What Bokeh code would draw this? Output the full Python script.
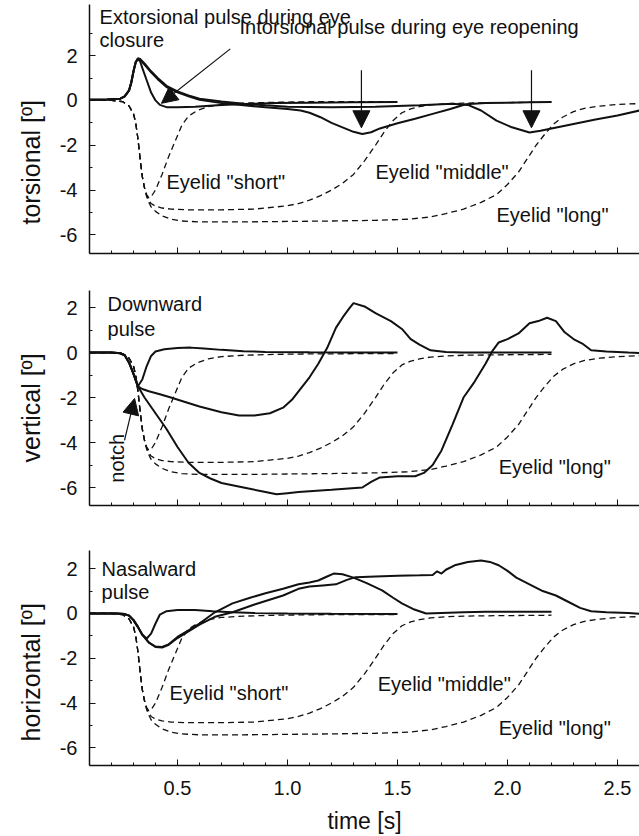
import math
from bokeh.plotting import figure
from bokeh.layouts import column
from bokeh.models import Range1d, FixedTicker, Label, Arrow, NormalHead, Title
from bokeh.embed import file_html
from bokeh.resources import INLINE

FONT = "Liberation Sans"
INK = "#111111"

# ---------------- data ----------------
x_ticks = [0.5, 1.0, 1.5, 2.0, 2.5]
x_tick_labels = ["0.5", "1.0", "1.5", "2.0", "2.5"]
y_ticks = [-6, -4, -2, 0, 2]
y_tick_labels = ["-6", "-4", "-2", "0", "2"]

# eyelid traces (dashed), same in every panel
lid_short_t = [0.10, 0.20, 0.25, 0.28, 0.30, 0.31, 0.32, 0.33, 0.34, 0.35, 0.36, 0.37, 0.38, 0.40, 0.43, 0.46,
               0.49, 0.52, 0.55, 0.59, 0.64, 0.70, 0.80, 0.95, 1.10, 1.30, 1.50]
lid_short_v = [0.0, 0.0, -0.05, -0.25, -0.6, -1.0, -1.7, -2.6, -3.4, -3.9, -4.2, -4.35, -4.3, -4.0, -3.3, -2.5,
               -1.8, -1.1, -0.7, -0.45, -0.28, -0.18, -0.12, -0.08, -0.06, -0.05, -0.05]
lid_mid_t = [0.10, 0.20, 0.25, 0.28, 0.30, 0.31, 0.32, 0.33, 0.34, 0.35, 0.36, 0.37, 0.38, 0.40, 0.43, 0.47, 0.55,
             0.70, 0.85, 0.95, 1.00, 1.05, 1.10, 1.15, 1.20, 1.25, 1.30, 1.35, 1.40, 1.44, 1.48, 1.52, 1.56, 1.60,
             1.65, 1.72, 1.80, 1.95, 2.20]
lid_mid_v = [0.0, 0.0, -0.05, -0.25, -0.6, -1.0, -1.7, -2.6, -3.4, -3.9, -4.25, -4.45, -4.6, -4.72, -4.8, -4.85,
             -4.88, -4.88, -4.85, -4.75, -4.7, -4.6, -4.45, -4.25, -4.0, -3.7, -3.3, -2.7, -2.0, -1.4, -0.9, -0.55,
             -0.38, -0.28, -0.2, -0.15, -0.12, -0.1, -0.08]
lid_long_t = [0.10, 0.20, 0.25, 0.28, 0.30, 0.31, 0.32, 0.33, 0.34, 0.35, 0.36, 0.37, 0.38, 0.40, 0.43, 0.47, 0.52,
              0.60, 0.80, 1.00, 1.20, 1.40, 1.55, 1.65, 1.72, 1.80, 1.88, 1.95, 2.00, 2.05, 2.09, 2.13, 2.17, 2.21,
              2.25, 2.30, 2.35, 2.42, 2.50, 2.60]
lid_long_v = [0.0, 0.0, -0.05, -0.25, -0.6, -1.0, -1.7, -2.6, -3.4, -3.9, -4.3, -4.55, -4.75, -4.95, -5.15, -5.3,
              -5.38, -5.42, -5.42, -5.4, -5.38, -5.35, -5.3, -5.2, -5.05, -4.85, -4.55, -4.2, -3.75, -3.2, -2.6,
              -2.0, -1.5, -1.05, -0.75, -0.5, -0.35, -0.25, -0.18, -0.14]

# torsional eye traces
tor_short_t = [0.10, 0.18, 0.24, 0.26, 0.28, 0.29, 0.30, 0.31, 0.32, 0.33, 0.34, 0.36, 0.38, 0.40, 0.42, 0.45,
               0.50, 0.58, 0.68, 0.80, 0.95, 1.10, 1.30, 1.50]
tor_short_v = [0.03, 0.04, 0.08, 0.18, 0.45, 0.8, 1.3, 1.7, 1.85, 1.75, 1.45, 0.9, 0.35, 0.0, -0.2, -0.3,
               -0.3, -0.28, -0.22, -0.16, -0.12, -0.1, -0.08, -0.07]
tor_mid_t = [0.10, 0.18, 0.24, 0.26, 0.28, 0.29, 0.30, 0.31, 0.32, 0.33, 0.35, 0.38, 0.41, 0.45, 0.50, 0.55, 0.60,
             0.70, 0.80, 0.90, 1.00, 1.06, 1.10, 1.15, 1.20, 1.25, 1.30, 1.34, 1.38, 1.42, 1.50, 1.58, 1.66, 1.74,
             1.81, 1.90, 2.00, 2.10, 2.20]
tor_mid_v = [0.03, 0.04, 0.08, 0.18, 0.45, 0.8, 1.3, 1.7, 1.85, 1.82, 1.6, 1.25, 0.95, 0.6, 0.36, 0.18, 0.03,
             -0.12, -0.22, -0.3, -0.38, -0.45, -0.55, -0.75, -1.0, -1.2, -1.4, -1.5, -1.42, -1.25, -1.02, -0.82,
             -0.6, -0.38, -0.17, -0.12, -0.1, -0.08, -0.07]
tor_long_t = [0.10, 0.18, 0.24, 0.26, 0.28, 0.29, 0.30, 0.31, 0.32, 0.33, 0.35, 0.38, 0.41, 0.45, 0.50, 0.55, 0.60,
              0.70, 0.80, 0.90, 1.00, 1.20, 1.40, 1.60, 1.75, 1.82, 1.88, 1.95, 2.02, 2.10, 2.15, 2.20, 2.30, 2.40,
              2.50, 2.60]
tor_long_v = [0.03, 0.04, 0.08, 0.18, 0.45, 0.8, 1.3, 1.7, 1.88, 1.85, 1.65, 1.3, 1.0, 0.65, 0.4, 0.22, 0.08,
              -0.05, -0.15, -0.22, -0.28, -0.3, -0.28, -0.22, -0.15, -0.2, -0.45, -0.9, -1.2, -1.43, -1.35, -1.25,
              -1.05, -0.85, -0.67, -0.45]

# vertical eye traces
ver_short_t = [0.10, 0.20, 0.24, 0.26, 0.28, 0.30, 0.32, 0.34, 0.36, 0.38, 0.40, 0.44, 0.50, 0.56, 0.62, 0.70,
               0.80, 0.90, 1.10, 1.30, 1.50]
ver_short_v = [0.0, 0.0, -0.03, -0.12, -0.45, -0.95, -1.5, -1.2, -0.6, -0.15, 0.05, 0.15, 0.2, 0.22, 0.18, 0.12,
               0.06, 0.03, 0.01, 0.0, 0.0]
ver_mid_t = [0.10, 0.20, 0.24, 0.26, 0.28, 0.30, 0.32, 0.34, 0.37, 0.42, 0.47, 0.52, 0.60, 0.70, 0.78, 0.85, 0.92,
             0.98, 1.02, 1.06, 1.10, 1.14, 1.18, 1.22, 1.25, 1.28, 1.30, 1.35, 1.40, 1.47, 1.52, 1.56, 1.60, 1.65,
             1.72, 1.80, 2.00, 2.20]
ver_mid_v = [0.0, 0.0, -0.03, -0.12, -0.45, -0.95, -1.5, -1.62, -1.72, -1.85, -2.0, -2.15, -2.4, -2.65, -2.8,
             -2.8, -2.7, -2.45, -2.1, -1.6, -1.1, -0.5, 0.2, 1.1, 1.55, 1.95, 2.2, 2.05, 1.75, 1.4, 1.05, 0.6, 0.35,
             0.1, 0.03, 0.0, 0.0, 0.0]
ver_long_t = [0.10, 0.20, 0.24, 0.26, 0.28, 0.30, 0.32, 0.35, 0.40, 0.45, 0.50, 0.55, 0.60, 0.65, 0.70, 0.80, 0.90,
              0.95, 1.00, 1.05, 1.20, 1.34, 1.38, 1.42, 1.50, 1.58, 1.62, 1.66, 1.70, 1.75, 1.80, 1.85, 1.90, 1.93,
              1.96, 2.00, 2.05, 2.10, 2.14, 2.18, 2.22, 2.26, 2.30, 2.34, 2.38, 2.45, 2.55, 2.60]
ver_long_v = [0.0, 0.0, -0.03, -0.12, -0.45, -0.95, -1.5, -2.0, -2.7, -3.4, -4.2, -4.9, -5.35, -5.6, -5.8, -6.0,
              -6.2, -6.3, -6.25, -6.2, -6.1, -6.0, -5.75, -5.55, -5.5, -5.5, -5.35, -5.0, -4.35, -3.2, -2.0, -1.3,
              -0.5, 0.05, 0.45, 0.6, 0.85, 1.3, 1.4, 1.55, 1.4, 0.9, 0.6, 0.4, 0.1, 0.05, 0.0, -0.02]

# horizontal eye traces
hor_short_t = [0.10, 0.22, 0.26, 0.28, 0.30, 0.32, 0.34, 0.36, 0.38, 0.40, 0.42, 0.45, 0.50, 0.58, 0.66, 0.75,
               0.85, 1.00, 1.20, 1.50]
hor_short_v = [0.0, 0.0, -0.03, -0.1, -0.3, -0.6, -0.95, -1.12, -0.9, -0.45, -0.05, 0.1, 0.15, 0.15, 0.1, 0.05,
               0.02, 0.0, -0.01, -0.02]
hor_mid_t = [0.10, 0.22, 0.26, 0.28, 0.30, 0.32, 0.34, 0.37, 0.40, 0.43, 0.46, 0.50, 0.55, 0.60, 0.67, 0.75, 0.83,
             0.90, 0.98, 1.05, 1.10, 1.14, 1.18, 1.21, 1.25, 1.30, 1.36, 1.43, 1.48, 1.52, 1.57, 1.63, 1.70, 1.80,
             1.90, 2.00, 2.10, 2.20]
hor_mid_v = [0.0, 0.0, -0.03, -0.1, -0.3, -0.6, -0.95, -1.3, -1.48, -1.5, -1.38, -1.05, -0.75, -0.45, 0.05, 0.45,
             0.7, 0.9, 1.1, 1.3, 1.38, 1.47, 1.65, 1.78, 1.75, 1.6, 1.35, 1.03, 0.7, 0.45, 0.2, 0.0, 0.02, 0.05,
             0.07, 0.07, 0.08, 0.08]
hor_long_t = [0.10, 0.22, 0.26, 0.28, 0.30, 0.32, 0.34, 0.37, 0.40, 0.43, 0.46, 0.50, 0.55, 0.60, 0.67, 0.75, 0.85,
              0.98, 1.05, 1.10, 1.16, 1.22, 1.27, 1.31, 1.40, 1.50, 1.60, 1.66, 1.68, 1.70, 1.72, 1.76, 1.82, 1.88,
              1.92, 1.96, 2.00, 2.04, 2.10, 2.16, 2.22, 2.28, 2.33, 2.38, 2.45, 2.55, 2.60]
hor_long_v = [0.0, 0.0, -0.03, -0.1, -0.3, -0.6, -0.95, -1.3, -1.5, -1.52, -1.4, -1.1, -0.8, -0.5, -0.15, 0.05,
              0.4, 0.8, 1.1, 1.2, 1.25, 1.3, 1.5, 1.62, 1.65, 1.68, 1.7, 1.72, 1.88, 1.78, 1.95, 2.15, 2.3, 2.36,
              2.3, 2.15, 1.9, 1.6, 1.3, 1.0, 0.8, 0.5, 0.25, 0.1, 0.05, 0.02, -0.02]

X_RANGE = (0.1, 2.6)


def make_panel(height, y_range, top, bottom, show_x_labels, ylabel, ylabel_offset, eye, lids):
    p = figure(width=639, height=height, x_range=Range1d(*X_RANGE), y_range=Range1d(*y_range),
               output_backend="svg", toolbar_location=None,
               min_border_left=89, min_border_right=0, min_border_top=top, min_border_bottom=bottom)
    p.outline_line_color = None
    p.grid.visible = False
    p.background_fill_color = "white"
    p.border_fill_color = "white"

    xa = p.xaxis[0]
    xa.ticker = FixedTicker(ticks=x_ticks, minor_ticks=[round(0.1 * i, 2) for i in range(1, 27)])
    xa.major_label_overrides = dict(zip(x_ticks, x_tick_labels))
    xa.axis_line_width = 1.5
    xa.axis_line_color = INK
    xa.major_tick_in = 6
    xa.major_tick_out = 0
    xa.minor_tick_in = 3
    xa.minor_tick_out = 0
    xa.major_tick_line_color = INK
    xa.minor_tick_line_color = INK
    xa.major_label_text_font = FONT
    if show_x_labels:
        xa.major_label_text_color = INK
        xa.major_label_text_font_size = "20px"
        xa.major_label_standoff = 15
        xa.axis_label = "time [s]"
        xa.axis_label_text_font = FONT
        xa.axis_label_text_font_size = "23px"
        xa.axis_label_text_font_style = "normal"
        xa.axis_label_text_color = INK
        xa.axis_label_standoff = 10
    else:
        xa.major_label_text_color = None
        xa.major_label_text_font_size = "1px"
        xa.major_label_standoff = 0

    ya = p.yaxis[0]
    ya.ticker = FixedTicker(ticks=y_ticks, minor_ticks=[-7, -5, -3, -1, 1, 3])
    ya.major_label_overrides = dict(zip(y_ticks, y_tick_labels))
    ya.axis_line_width = 1.5
    ya.axis_line_color = INK
    ya.major_tick_in = 6
    ya.major_tick_out = 0
    ya.minor_tick_in = 3
    ya.minor_tick_out = 0
    ya.major_tick_line_color = INK
    ya.minor_tick_line_color = INK
    ya.major_label_text_font = FONT
    ya.major_label_text_font_size = "20px"
    ya.major_label_text_color = INK
    ya.major_label_standoff = 12

    # y-axis title, shifted along the axis like the original
    p.add_layout(Title(text=ylabel, align="left", offset=ylabel_offset, vertical_align="middle",
                       text_font=FONT, text_font_size="25px", text_font_style="normal",
                       text_color=INK, standoff=22), "left")

    for t, v in lids:
        p.line(t, v, line_width=1.3, line_color=INK, line_dash="6 4")
    for t, v in eye:
        p.line(t, v, line_width=2, line_color=INK)
    return p


def add_text(p, x, y, text, **kw):
    p.add_layout(Label(x=x, y=y, text=text, text_font=FONT, text_font_size="20px",
                       text_color=INK, text_baseline="middle", text_align="left", **kw))


lids = [(lid_short_t, lid_short_v), (lid_mid_t, lid_mid_v), (lid_long_t, lid_long_v)]

p1 = make_panel(270, (-6.83, 4.28), 4, 17, False, "torsional [º]", 29,
                [(tor_short_t, tor_short_v), (tor_mid_t, tor_mid_v), (tor_long_t, tor_long_v)], lids)
p2 = make_panel(260, (-6.8, 2.76), 20, 25, False, "vertical [º]", 43,
                [(ver_short_t, ver_short_v), (ver_mid_t, ver_mid_v), (ver_long_t, ver_long_v)], lids)
p3 = make_panel(306, (-6.79, 2.81), 20, 71, True, "horizontal [º]", 24,
                [(hor_short_t, hor_short_v), (hor_mid_t, hor_mid_v), (hor_long_t, hor_long_v)], lids)

# panel 1 annotations
add_text(p1, 0.146, 3.72, "Extorsional pulse during eye")
add_text(p1, 0.146, 2.68, "closure")
add_text(p1, 0.782, 3.26, "Intorsional pulse during eye reopening")
add_text(p1, 0.45, -3.66, 'Eyelid "short"')
add_text(p1, 1.40, -3.2, 'Eyelid "middle"')
add_text(p1, 1.95, -5.13, 'Eyelid "long"')
p1.add_layout(Arrow(end=NormalHead(size=16, fill_color=INK, line_color=INK),
                    x_start=0.74, y_start=2.3, x_end=0.427, y_end=-0.13,
                    line_width=1.2, line_color=INK))
for xa_ in (1.336, 2.109):
    p1.add_layout(Arrow(end=NormalHead(size=17, fill_color=INK, line_color=INK),
                        x_start=xa_, y_start=1.35, x_end=xa_, y_end=-1.22,
                        line_width=1.2, line_color=INK))

# panel 2 annotations
add_text(p2, 0.182, 2.18, "Downward")
add_text(p2, 0.182, 1.07, "pulse")
add_text(p2, 1.96, -5.1, 'Eyelid "long"')
p2.add_layout(Label(x=0.223, y=-4.7, text="notch", angle=math.pi / 2, text_font=FONT,
                    text_font_size="20px", text_color=INK, text_align="center", text_baseline="middle"))
p2.add_layout(Arrow(end=NormalHead(size=16, fill_color=INK, line_color=INK),
                    x_start=0.259, y_start=-3.9, x_end=0.305, y_end=-2.04,
                    line_width=1.2, line_color=INK))

# panel 3 annotations
add_text(p3, 0.155, 2.0, "Nasalward")
add_text(p3, 0.155, 0.94, "pulse")
add_text(p3, 0.464, -3.57, 'Eyelid "short"')
add_text(p3, 1.41, -3.13, 'Eyelid "middle"')
add_text(p3, 1.96, -5.13, 'Eyelid "long"')

layout = column(p1, p2, p3, spacing=0)
open("out.html", "w").write(file_html(layout, INLINE))
